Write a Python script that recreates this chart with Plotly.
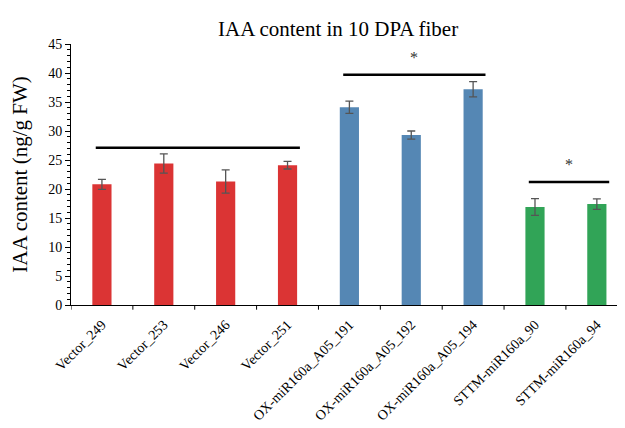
import plotly.graph_objects as go

categories = ["Vector_249", "Vector_253", "Vector_246", "Vector_251",
              "OX-miR160a_A05_191", "OX-miR160a_A05_192", "OX-miR160a_A05_194",
              "STTM-miR160a_90", "STTM-miR160a_94"]
values = [20.8, 24.4, 21.3, 24.1, 34.1, 29.3, 37.2, 16.9, 17.4]
errors = [0.85, 1.65, 2.0, 0.65, 1.05, 0.7, 1.3, 1.45, 0.9]
groups = ["Vector"] * 4 + ["OX"] * 3 + ["STTM"] * 2
group_colors = {"Vector": "#DB3434", "OX": "#5587B4", "STTM": "#31A457"}

# significance brackets: (start index, end index, y level, star?)
sig_lines = [(0, 3, 27.1, False), (4, 6, 39.7, True), (7, 8, 21.2, True)]
star_offset = 3.0

serif = "Liberation Serif, Times New Roman, serif"

fig = go.Figure()
fig.add_trace(go.Bar(
    x=list(range(len(categories))), y=values,
    marker=dict(color=[group_colors[g] for g in groups], line=dict(width=0)),
    width=0.31,
    error_y=dict(type="data", array=errors, visible=True, color="#555555",
                 thickness=1.3, width=4),
    showlegend=False,
))

for s, e, yv, star in sig_lines:
    fig.add_shape(type="line", xref="x", yref="y", x0=s - 0.1, x1=e + 0.2,
                  y0=yv, y1=yv, line=dict(color="black", width=2.5))
    if star:
        fig.add_annotation(x=(s + e) / 2 + 0.05, y=yv + star_offset, xref="x", yref="y",
                           text="*", showarrow=False,
                           font=dict(family=serif, size=16, color="#333333"))

fig.update_layout(
    width=617, height=420,
    margin=dict(l=63, r=0, t=36, b=123),
    plot_bgcolor="white", paper_bgcolor="white",
    title=dict(text="IAA content in 10 DPA fiber", x=0.535, xanchor="center",
               y=0.952, yanchor="middle",
               font=dict(family=serif, size=21, color="black")),
    font=dict(family=serif, color="black"),
    bargap=0.69,
)
fig.update_xaxes(
    tickmode="array", tickvals=list(range(len(categories))), ticktext=categories,
    range=[-0.5, 8.455], tickangle=-45, ticks="", showline=True, automargin=False,
    ticklabelstandoff=5,
    linecolor="black", linewidth=1, tickfont=dict(family=serif, size=14, color="black"),
    showgrid=False, zeroline=False,
)
# boundary ticks on x axis
for i in range(len(categories) + 1):
    fig.add_shape(type="line", xref="x", yref="paper", x0=i - 0.5, x1=i - 0.5,
                  y0=0, y1=-0.018, line=dict(color="black", width=1))

fig.update_yaxes(
    range=[0, 45], dtick=5, ticks="outside", ticklen=5, tickcolor="black",
    showline=True, linecolor="black", linewidth=1, showgrid=False, zeroline=False,
    automargin=False,
    tickfont=dict(family=serif, size=14, color="black"),
    minor=dict(dtick=1, ticks="outside", ticklen=3, tickcolor="black"),
    title=dict(text="IAA content (ng/g FW)", font=dict(family=serif, size=21, color="black"),
               standoff=16),
)

fig.write_html("out.html")
